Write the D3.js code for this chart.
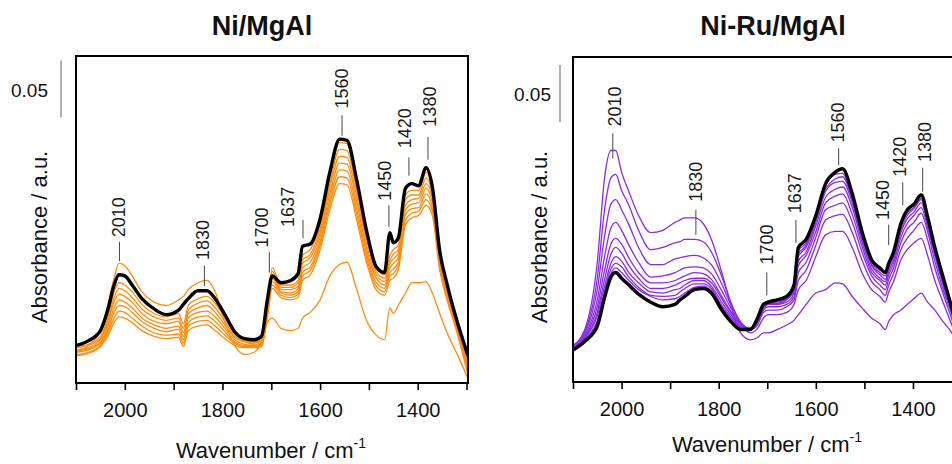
<!DOCTYPE html>
<html>
<head>
<meta charset="utf-8">
<script src="https://cdn.jsdelivr.net/npm/d3@7"></script>
<style>
    body { margin: 0; background: #fff; }
    svg { display: block; font-family: "Liberation Sans", Arial, sans-serif; }
</style>
</head>
<body>
<svg id="chart" width="952" height="464"></svg>
<script>
// wavenumber grid shared by all spectra (cm-1)
const wavenumbers = [2100, 2075, 2050, 2035, 2022, 2012, 2000, 1985, 1965, 1940, 1915, 1890, 1880, 1870, 1850, 1832, 1815, 1795, 1775, 1755, 1735, 1720, 1708, 1698, 1680, 1660, 1645, 1636, 1620, 1600, 1580, 1560, 1545, 1525, 1505, 1485, 1468, 1457, 1450, 1440, 1425, 1412, 1398, 1383, 1370, 1355, 1340, 1320, 1297];
const xTicks = [2100, 2000, 1900, 1800, 1700, 1600, 1500, 1400, 1300];

// Ni/MgAl spectra, absorbance in mAbs
const niFirst = [27, 33, 46, 68, 92, 105, 103, 94, 80, 71, 68, 73, 76, 82, 88, 90, 80, 53, 33, 25, 27, 36, 53, 57, 48, 46, 48, 57, 62, 73, 94, 104, 106, 82, 55, 42, 38, 66, 61, 68, 79, 88, 88, 89, 79, 61, 44, 26, 4];
const niC1 = [32, 34, 41, 57, 80, 88, 86, 80, 69, 61, 58, 61, 52, 68, 74, 76, 70, 57, 43, 38, 36, 38, 68, 101, 86, 86, 90, 112, 117, 139, 180, 211, 210, 174, 130, 101, 95, 112, 117, 121, 165, 169, 169, 185, 169, 114, 84, 53, 20];
const niC2 = [31, 33, 39, 54, 75, 83, 81, 75, 65, 58, 55, 57, 48, 64, 70, 72, 66, 54, 41, 37, 35, 37, 66, 98, 84, 84, 88, 108, 113, 135, 175, 205, 204, 169, 126, 98, 92, 108, 113, 117, 161, 165, 165, 180, 165, 112, 82, 52, 18];
const niC3 = [29, 31, 38, 52, 71, 78, 76, 71, 61, 54, 52, 54, 44, 61, 66, 68, 62, 51, 40, 36, 34, 36, 64, 95, 82, 82, 85, 105, 110, 132, 171, 199, 198, 164, 122, 95, 89, 105, 109, 114, 156, 161, 162, 175, 162, 109, 80, 50, 16];
const niC4 = [28, 30, 36, 49, 66, 73, 71, 66, 57, 51, 48, 50, 41, 57, 62, 63, 58, 48, 38, 34, 33, 35, 62, 92, 80, 79, 83, 101, 106, 128, 166, 193, 192, 159, 118, 92, 86, 101, 105, 110, 152, 157, 158, 171, 158, 107, 79, 49, 14];
const niC5 = [27, 29, 35, 46, 62, 68, 67, 62, 54, 48, 45, 47, 38, 53, 58, 59, 54, 45, 36, 33, 33, 34, 61, 89, 79, 77, 80, 97, 102, 124, 161, 187, 186, 153, 114, 88, 83, 97, 100, 106, 148, 153, 154, 166, 154, 104, 77, 48, 11];
const niC6 = [25, 27, 33, 44, 57, 63, 62, 57, 50, 44, 42, 43, 35, 50, 54, 55, 50, 42, 35, 32, 32, 33, 59, 86, 77, 75, 78, 94, 99, 121, 157, 181, 180, 148, 110, 85, 80, 94, 96, 103, 143, 149, 151, 161, 151, 102, 75, 46, 9];
const niC7 = [24, 26, 32, 41, 53, 58, 57, 53, 46, 41, 39, 40, 32, 46, 50, 51, 46, 39, 33, 31, 31, 32, 57, 83, 75, 73, 75, 90, 95, 117, 152, 175, 174, 143, 106, 82, 77, 90, 92, 99, 139, 145, 147, 156, 147, 99, 73, 45, 7];
const niLast = [33, 37, 46, 64, 86, 95, 94, 86, 74, 65, 60, 64, 69, 74, 81, 81, 74, 60, 45, 39, 38, 41, 73, 94, 88, 90, 96, 120, 122, 144, 185, 214, 213, 178, 134, 102, 97, 132, 123, 127, 171, 175, 173, 189, 172, 116, 87, 55, 24];

// Ni-Ru/MgAl spectra, absorbance in mAbs
const ruFirst = [32, 47, 105, 179, 203, 203, 184, 167, 146, 131, 133, 140, 142, 144, 144, 139, 125, 98, 68, 43, 37, 39, 43, 43, 46, 50, 54, 59, 68, 78, 81, 87, 86, 75, 65, 56, 51, 46, 53, 59, 63, 68, 73, 78, 70, 63, 54, 43, 24];
const ruP1 = [32, 45, 91, 151, 179, 182, 168, 155, 133, 116, 118, 122, 123, 125, 125, 123, 114, 94, 70, 52, 43, 47, 56, 59, 59, 61, 68, 81, 89, 110, 129, 132, 132, 118, 96, 81, 75, 70, 79, 88, 107, 116, 122, 126, 111, 89, 72, 50, 26];
const ruP2 = [31, 43, 81, 128, 156, 160, 151, 138, 118, 103, 103, 108, 109, 110, 111, 109, 103, 87, 68, 53, 46, 50, 61, 63, 63, 66, 72, 89, 98, 120, 142, 146, 147, 131, 107, 88, 81, 76, 85, 95, 116, 126, 133, 140, 125, 100, 80, 55, 26];
const ruP3 = [30, 41, 72, 110, 135, 140, 133, 120, 105, 92, 93, 96, 98, 100, 101, 100, 95, 81, 65, 52, 46, 52, 63, 66, 66, 68, 75, 96, 105, 127, 151, 155, 157, 140, 114, 93, 85, 81, 90, 100, 122, 134, 140, 148, 132, 106, 84, 59, 27];
const ruP4 = [30, 40, 66, 98, 121, 126, 121, 109, 96, 87, 87, 89, 91, 93, 96, 95, 90, 76, 62, 51, 47, 53, 64, 68, 68, 70, 78, 102, 111, 132, 157, 163, 165, 147, 119, 96, 89, 85, 94, 104, 127, 139, 146, 153, 136, 111, 88, 61, 27];
const ruP5 = [29, 39, 61, 90, 112, 118, 113, 102, 91, 82, 82, 85, 87, 89, 91, 91, 87, 74, 61, 50, 47, 53, 65, 68, 68, 72, 80, 106, 114, 137, 162, 169, 171, 153, 123, 99, 91, 88, 97, 107, 131, 143, 149, 157, 139, 113, 89, 62, 27];
const ruP6 = [29, 39, 58, 84, 104, 110, 106, 96, 87, 79, 78, 81, 82, 85, 89, 89, 84, 71, 59, 49, 47, 54, 66, 69, 69, 73, 82, 110, 118, 140, 167, 175, 176, 157, 126, 102, 94, 90, 100, 110, 133, 146, 152, 160, 141, 115, 91, 63, 28];
const ruP7 = [28, 38, 54, 80, 99, 104, 101, 92, 83, 76, 75, 76, 79, 82, 86, 86, 82, 68, 57, 48, 46, 54, 67, 70, 70, 74, 82, 112, 120, 143, 169, 178, 180, 160, 129, 103, 96, 93, 102, 111, 136, 148, 153, 161, 143, 117, 93, 64, 28];
const ruP8 = [28, 37, 52, 76, 95, 100, 96, 89, 81, 75, 72, 73, 75, 78, 83, 84, 80, 67, 55, 47, 46, 55, 68, 71, 71, 74, 83, 115, 122, 145, 172, 182, 183, 162, 131, 105, 98, 96, 103, 113, 138, 150, 155, 163, 144, 118, 94, 65, 28];
const ruLast = [28, 36, 49, 74, 92, 96, 91, 85, 77, 70, 66, 68, 72, 75, 81, 82, 78, 64, 53, 46, 46, 56, 68, 70, 72, 75, 85, 118, 125, 146, 174, 184, 187, 165, 132, 107, 100, 96, 104, 114, 139, 151, 156, 164, 145, 118, 95, 65, 28];

// peak labels: [text, line wavenumber, line from, line to, text wavenumber, text start] (mAbs)
const niPeaks = [
    ["2010", 2011, 107, 124, 2011, 128],
    ["1830", 1837, 85, 103, 1839, 108],
    ["1700", 1704, 97, 115, 1718, 119],
    ["1637", 1635, 127, 143, 1665, 137],
    ["1560", 1555, 217, 235, 1555, 241],
    ["1450", 1459, 137, 156, 1467, 160],
    ["1420", 1418, 182, 198, 1426, 206],
    ["1380", 1379, 196, 216, 1375, 225]
];
const ruPeaks = [
    ["2010", 2018, 196, 218, 2014, 224],
    ["1830", 1847, 129, 151, 1847, 158],
    ["1700", 1701, 76, 96, 1701, 103],
    ["1637", 1641, 122, 142, 1643, 148],
    ["1560", 1553, 190, 205, 1555, 210],
    ["1450", 1450, 120, 138, 1461, 142],
    ["1420", 1421, 155, 175, 1427, 180],
    ["1380", 1380, 167, 188, 1376, 193]
];

const panels = [
    {
        title: "Ni/MgAl", color: "#ff8c0f",
        series: [niFirst, niC7, niC6, niC5, niC4, niC3, niC2, niC1], last: niLast, peaks: niPeaks,
        left: 76, right: 468, top: 56, bottom: 383, yMax: 287,
        titleX: 262, titleY: 35, yTitleX: 47, xTitleX: 271, xTitleY: 458,
        barX: 61, barFrom: 233, labelX: 48
    },
    {
        title: "Ni-Ru/MgAl", color: "#8a2be2",
        series: [ruP8, ruP7, ruP6, ruP5, ruP4, ruP3, ruP2, ruP1, ruFirst], last: ruLast, peaks: ruPeaks,
        left: 573, right: 963, top: 57, bottom: 382, yMax: 285,
        titleX: 773, titleY: 35, yTitleX: 547, xTitleX: 767, xTitleY: 452,
        barX: 560, barFrom: 228, labelX: 551
    }
];

let svg = d3.select("#chart");

panels.forEach((p, i) => {
    let x = d3.scaleLinear()
        .domain([2100, 1297])
        .range([p.left, p.right]);

    let y = d3.scaleLinear()
        .domain([0, p.yMax])
        .range([p.bottom, p.top]);

    let line = d3.line()
        .x((d, k) => x(wavenumbers[k]))
        .y(d => y(d))
        .curve(d3.curveMonotoneX);

    svg.append("clipPath")
        .attr("id", `clip${i}`)
        .append("rect")
        .attr("x", p.left)
        .attr("y", p.top)
        .attr("width", p.right - p.left)
        .attr("height", p.bottom - p.top);

    let plot = svg.append("g").attr("clip-path", `url(#clip${i})`);

    plot.selectAll("path.spectrum")
        .data(p.series)
        .enter()
        .append("path")
        .attr("class", "spectrum")
        .attr("d", line)
        .style("fill", "none")
        .style("stroke", p.color)
        .style("stroke-width", 1.3);

    plot.append("path")
        .datum(p.last)
        .attr("d", line)
        .style("fill", "none")
        .style("stroke", "#000")
        .style("stroke-width", 3.4)
        .style("stroke-linejoin", "round");

    // peak markers
    let peaks = svg.append("g");
    peaks.selectAll("line")
        .data(p.peaks)
        .enter()
        .append("line")
        .attr("x1", d => x(d[1]))
        .attr("x2", d => x(d[1]))
        .attr("y1", d => y(d[2]))
        .attr("y2", d => y(d[3]))
        .style("stroke", "#444")
        .style("stroke-width", 1);

    peaks.selectAll("text")
        .data(p.peaks)
        .enter()
        .append("text")
        .attr("transform", d => `translate(${x(d[4])},${y(d[5])}) rotate(-90)`)
        .attr("dominant-baseline", "central")
        .style("font-size", "18px")
        .style("fill", "#1a1a1a")
        .text(d => d[0]);

    // frame
    svg.append("rect")
        .attr("x", p.left)
        .attr("y", p.top)
        .attr("width", p.right - p.left)
        .attr("height", p.bottom - p.top)
        .style("fill", "none")
        .style("stroke", "#000")
        .style("stroke-width", 2);

    let xAxis = d3.axisBottom(x)
        .tickValues(xTicks)
        .tickSize(7)
        .tickPadding(13)
        .tickFormat(d => d % 200 === 0 ? d : "");

    let gx = svg.append("g")
        .attr("transform", `translate(0, ${p.bottom})`)
        .call(xAxis);
    gx.select(".domain").remove();
    gx.selectAll(".tick line").style("stroke", "#000").style("stroke-width", 1.6);
    gx.selectAll(".tick text")
        .style("font-size", "20px")
        .style("font-family", "Liberation Sans, Arial, sans-serif")
        .style("fill", "#111");

    // 0.05 scale bar
    svg.append("line")
        .attr("x1", p.barX)
        .attr("x2", p.barX)
        .attr("y1", y(p.barFrom))
        .attr("y2", y(p.barFrom + 50))
        .style("stroke", "#999")
        .style("stroke-width", 1.5);

    svg.append("text")
        .attr("x", p.labelX)
        .attr("y", (y(p.barFrom) + y(p.barFrom + 50)) / 2 + 1)
        .attr("text-anchor", "end")
        .attr("dominant-baseline", "central")
        .style("font-size", "19px")
        .style("fill", "#111")
        .text("0.05");

    svg.append("text")
        .attr("x", p.titleX)
        .attr("y", p.titleY)
        .attr("text-anchor", "middle")
        .style("font-size", "27px")
        .style("font-weight", "bold")
        .style("fill", "#111")
        .text(p.title);

    svg.append("text")
        .attr("transform", `translate(${p.yTitleX}, 237) rotate(-90)`)
        .attr("text-anchor", "middle")
        .style("font-size", "22px")
        .style("fill", "#111")
        .text("Absorbance / a.u.");

    let xt = svg.append("text")
        .attr("x", p.xTitleX)
        .attr("y", p.xTitleY)
        .attr("text-anchor", "middle")
        .style("font-size", "22px")
        .style("fill", "#111");
    xt.append("tspan").text("Wavenumber / cm");
    xt.append("tspan")
        .attr("dy", -10)
        .style("font-size", "14px")
        .text("-1");
});
</script>
</body>
</html>
